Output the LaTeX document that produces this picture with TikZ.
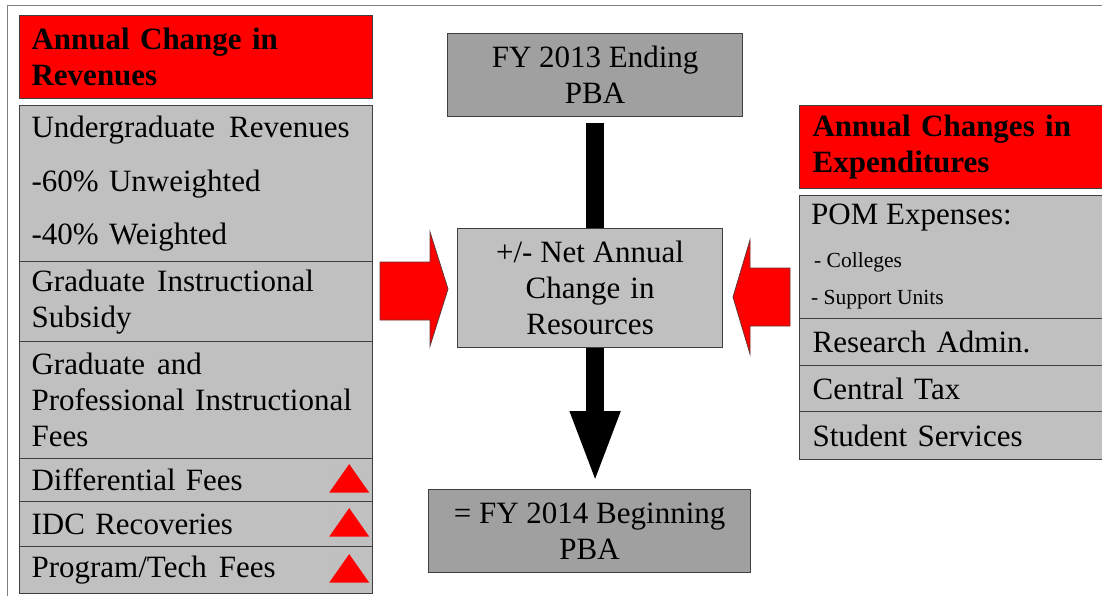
\documentclass[tikz,border=0pt]{standalone}
\usepackage{fontspec}
\setmainfont{Liberation Serif}
\usetikzlibrary{arrows.meta,calc}
\definecolor{boxgray}{HTML}{C0C0C0}
\definecolor{darkbox}{HTML}{A0A0A0}
\definecolor{edge}{HTML}{404040}
\newcommand\bigtxt{\fontsize{31}{36}\selectfont}
\newcommand\smalltxt{\fontsize{21.5}{25}\selectfont}
\newcommand\uptri[1]{%
  \fill[black!25] ($(#1.east)+(-42,-14)$) -- ($(#1.east)+(-2,14)$) -- ($(#1.east)+(-42,14)$) -- cycle;
  \fill[red] ($(#1.east)+(-44,12.5)$) -- ($(#1.east)+(-4,12.5)$) -- ($(#1.east)+(-24,-16)$) -- cycle;}
\begin{document}
\begin{tikzpicture}[x=1pt,y=-1pt,
  box/.style={draw=edge, line width=1.2pt, anchor=north west, inner xsep=12pt, inner ysep=0pt, font=\bigtxt, text=black},
  leftbox/.style={box, fill=boxgray, minimum width=353pt, text width=329pt, align=left},
  lefthead/.style={leftbox, fill=red, font=\bigtxt\bfseries},
  rightbox/.style={box, fill=boxgray, minimum width=330pt, text width=304pt, inner xsep=11pt, align=left},
  righthead/.style={rightbox, fill=red, font=\bigtxt\bfseries},
  pbabox/.style={box, fill=darkbox, align=center},
  txt/.style={anchor=west, inner sep=0pt, text=black},
  redarrow/.style={fill=red, draw=edge!80!red, line width=0.8pt}
]
\clip (0,0) rectangle (1102,596);
\useasboundingbox (0,0) rectangle (1102,596);
\fill[white] (0,0) rectangle (1102,596);
\draw[gray, line width=1pt] (7,6) rectangle (1130,630);

% left column
\node[lefthead, minimum height=83pt] (lh) at (19,15) {Annual Change in\\Revenues};
\node[leftbox, minimum height=156pt] (ug) at (19,105)
  {Undergraduate\hspace{14pt}Revenues\\[17.5pt]-60\% Unweighted\\[17.5pt]-40\% Weighted};
\node[leftbox, minimum height=80pt] (gis) at (19,261) {Graduate\hspace{12pt}Instructional\\Subsidy};
\node[leftbox, minimum height=117pt] (gpf) at (19,341) {Graduate\hspace{12pt}and\\Professional Instructional\\Fees};
\node[leftbox, minimum height=43pt] (dif) at (19,458) {Differential Fees};
\node[leftbox, minimum height=45pt] (idc) at (19,501) {IDC Recoveries};
\node[leftbox, minimum height=47pt] (ptf) at (19,546) {Program/Tech\hspace{12pt}Fees};
\uptri{dif}
\uptri{idc}
\uptri{ptf}

% centre column
\node[pbabox, minimum width=295pt, minimum height=83pt] (fy13) at (447,33) {FY 2013 Ending\\PBA};
\node[pbabox, minimum width=322pt, minimum height=83pt] (fy14) at (428,489) {= FY 2014 Beginning\\PBA};
\draw[black, line width=18pt, -{Triangle[width=45pt,length=73pt]}, shorten <=6pt, shorten >=5pt]
  (fy13.south) -- (fy13.south |- fy14.north);
\node[box, fill=boxgray, align=center, minimum width=265pt, minimum height=119pt] (net) at (457,228)
  {+/- Net Annual\\Change\hspace{10pt}in\\Resources};

% red block arrows
\filldraw[redarrow] (380,262) -- (430,262) -- (430,232) -- (448,289) -- (430,346) -- (430,320) -- (380,320) -- cycle;
\filldraw[redarrow] (790,268) -- (750,268) -- (750,240) -- (733,297) -- (750,354) -- (750,326) -- (790,326) -- cycle;

% right column
\node[righthead, minimum height=83pt] (rh) at (799,105) {Annual Changes in\\Expenditures};
\node[rightbox, minimum height=123pt] (pom) at (799,195) {};
\node[txt, font=\bigtxt] (pomt) at (811,218) {POM Expenses:};
\node[txt, font=\smalltxt] (col) at (814,262) {- Colleges};
\node[txt, font=\smalltxt] (sup) at (811,300) {- Support Units};
\node[rightbox, minimum height=47pt] (ra) at (799,318) {Research Admin.};
\node[rightbox, minimum height=46pt] (ct) at (799,365) {Central Tax};
\node[rightbox, minimum height=48pt] (ss) at (799,411) {Student Services};
\end{tikzpicture}
\end{document}
